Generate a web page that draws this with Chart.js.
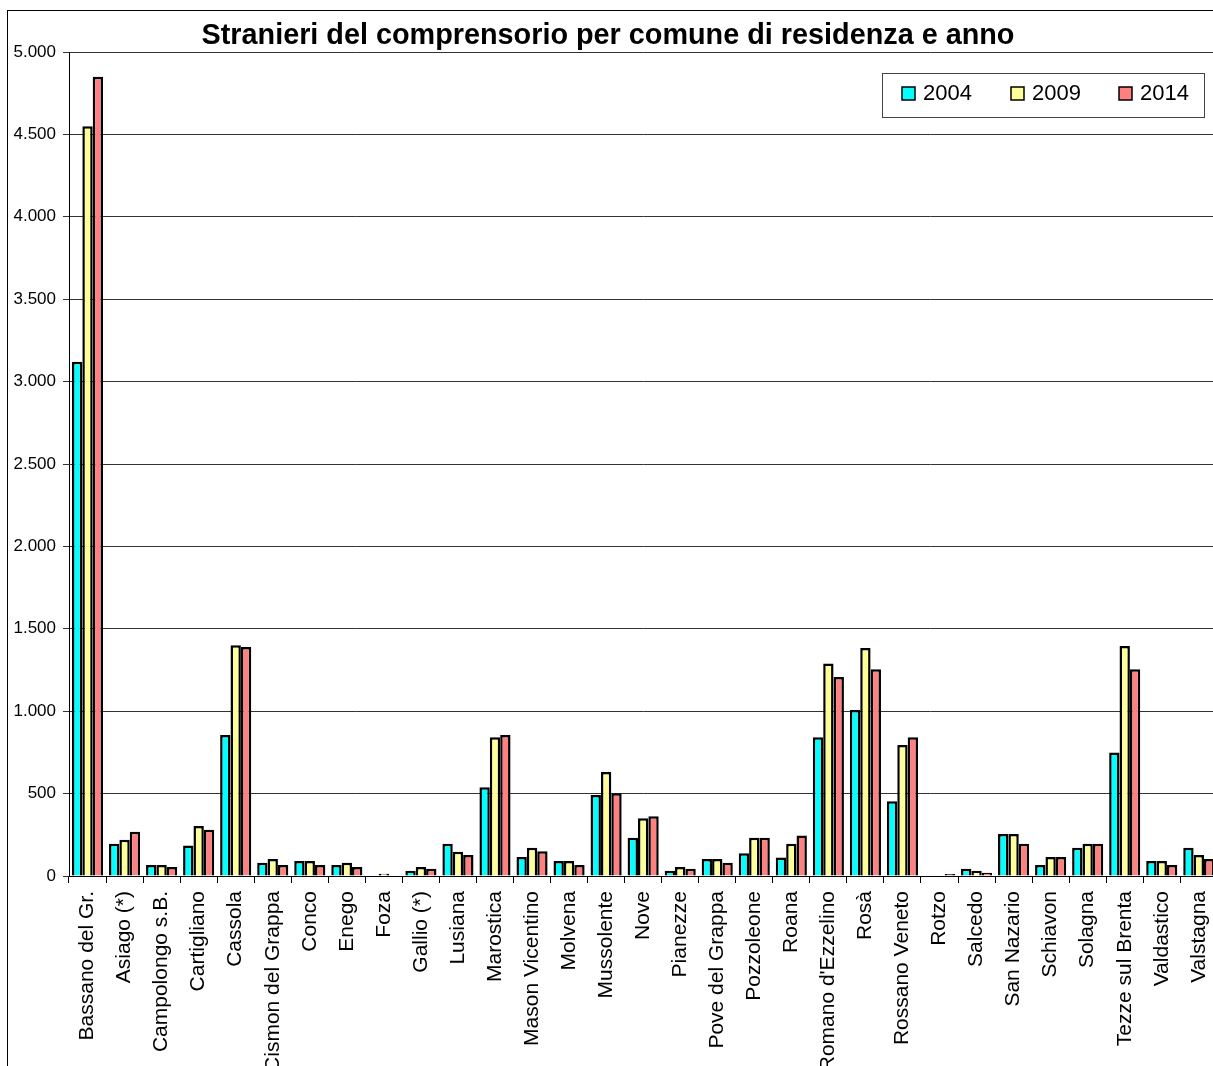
<!DOCTYPE html>
<html>
<head>
<meta charset="utf-8">
<script src="https://cdn.jsdelivr.net/npm/chart.js@4"></script>
<style>
  html, body { margin: 0; padding: 0; background: #fff; overflow: hidden; }
  #frame {
    position: absolute; left: 7px; top: 10px;
    width: 1300px; height: 1200px;
    border: 1px solid #000;
  }
  #chart { position: absolute; left: 0; top: 0; }
</style>
</head>
<body>
<div id="frame">
  <canvas id="chart" width="1224" height="1100"></canvas>
</div>
<script>
var titolo = 'Stranieri del comprensorio per comune di residenza e anno';

// Comuni (categories)
var comuni = ['Bassano del Gr.', 'Asiago (*)', 'Campolongo s.B.', 'Cartigliano', 'Cassola',
  'Cismon del Grappa', 'Conco', 'Enego', 'Foza', 'Gallio (*)', 'Lusiana', 'Marostica',
  'Mason Vicentino', 'Molvena', 'Mussolente', 'Nove', 'Pianezze', 'Pove del Grappa',
  'Pozzoleone', 'Roana', "Romano d'Ezzelino", 'Rosà', 'Rossano Veneto', 'Rotzo', 'Salcedo',
  'San Nazario', 'Schiavon', 'Solagna', 'Tezze sul Brenta', 'Valdastico', 'Valstagna'];

// stranieri residenti per anno
var anni = ['2004', '2009', '2014'];
var v2004 = [3120, 195, 67, 185, 856, 81, 91, 67, 0, 32, 196, 538, 115, 91, 492, 232, 32, 103, 138, 113, 842, 1008, 453, 0, 44, 255, 67, 172, 750, 91, 172];
var v2009 = [4550, 220, 67, 304, 1400, 103, 91, 81, 14, 55, 147, 842, 172, 91, 631, 350, 55, 103, 232, 196, 1290, 1383, 795, 0, 32, 255, 115, 196, 1395, 91, 127];
var v2014 = [4850, 268, 55, 280, 1390, 67, 67, 55, 0, 44, 127, 856, 150, 67, 502, 362, 44, 81, 232, 245, 1208, 1255, 842, 12, 20, 196, 115, 196, 1255, 67, 103];

var colori = ['#00FFFF', '#FFFF99', '#FF8080'];
var FONT = '"Liberation Sans", Arial, sans-serif';

// format 5000 -> 5.000
function formatIt(v) {
  return String(v).replace(/\B(?=(\d{3})+(?!\d))/g, '.');
}

// title + boxed legend, placed like the original
var titleAndLegend = {
  id: 'titleAndLegend',
  afterDraw: function(chart) {
    var ctx = chart.ctx;
    ctx.save();
    ctx.fillStyle = '#000';
    ctx.font = 'bold 28.8px ' + FONT;
    ctx.textAlign = 'center';
    ctx.textBaseline = 'middle';
    ctx.fillText(titolo, 600, 25);

    var x = 874, y = 62, w = 322, h = 44;
    ctx.fillStyle = '#fff';
    ctx.fillRect(x, y, w, h);
    ctx.strokeStyle = '#444';
    ctx.lineWidth = 1;
    ctx.strokeRect(x + 0.5, y + 0.5, w, h);
    var offs = [20, 129, 237];
    chart.data.datasets.forEach(function(ds, i) {
      var mx = x + offs[i];
      ctx.fillStyle = ds.backgroundColor;
      ctx.fillRect(mx, y + 14, 13, 13);
      ctx.strokeStyle = '#000';
      ctx.lineWidth = 1.5;
      ctx.strokeRect(mx, y + 14, 13, 13);
      ctx.fillStyle = '#000';
      ctx.font = '22px ' + FONT;
      ctx.textBaseline = 'middle';
      ctx.textAlign = 'left';
      ctx.fillText(ds.label, mx + 21, y + 21);
    });
    ctx.restore();
  }
};

var ctx = document.getElementById('chart').getContext('2d');
var chartBar = new Chart(ctx, {
  type: 'bar',
  data: {
    labels: comuni,
    datasets: [
      { label: anni[0], data: v2004, backgroundColor: colori[0], borderColor: '#000', borderWidth: 2.5 },
      { label: anni[1], data: v2009, backgroundColor: colori[1], borderColor: '#000', borderWidth: 2.5 },
      { label: anni[2], data: v2014, backgroundColor: colori[2], borderColor: '#000', borderWidth: 2.5 }
    ]
  },
  options: {
    responsive: false,
    animation: false,
    categoryPercentage: 0.84,
    barPercentage: 1.0,
    layout: { padding: { left: 0, right: 0, top: 41, bottom: 0 } },
    plugins: {
      legend: { display: false },
      tooltip: { enabled: false },
      title: { display: false }
    },
    scales: {
      x: {
        grid: { display: true, drawOnChartArea: false, drawTicks: true, tickLength: 7, color: '#000', offset: true },
        border: { display: true, color: '#000', width: 1 },
        ticks: {
          color: '#000', autoSkip: false, minRotation: 90, maxRotation: 90, padding: 8,
          font: { family: FONT, size: 21 }
        },
        afterFit: function(scale) { scale.height = 235; }
      },
      y: {
        min: 0, max: 5000,
        grid: { color: '#333', lineWidth: 1, tickLength: 6, drawTicks: true },
        border: { display: true, color: '#000', width: 1 },
        ticks: {
          stepSize: 500, color: '#000', padding: 7,
          font: { family: FONT, size: 17 },
          callback: function(v) { return formatIt(v); }
        },
        afterFit: function(scale) { scale.width = 61; }
      }
    }
  },
  plugins: [titleAndLegend]
});
</script>
</body>
</html>
